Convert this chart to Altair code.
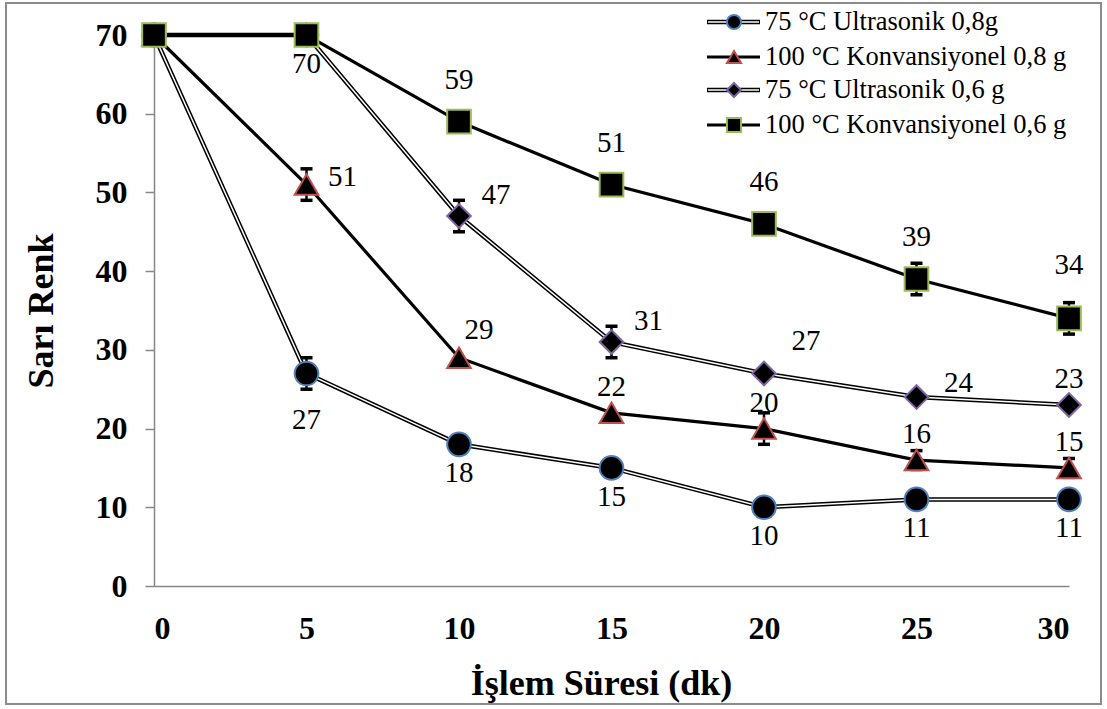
import altair as alt
import pandas as pd

# ---------------- data ----------------
time = [0, 5, 10, 15, 20, 25, 30]
series_names = [
    "75 °C Ultrasonik 0,8g",
    "100 °C Konvansiyonel 0,8 g",
    "75 °C Ultrasonik 0,6 g",
    "100 °C Konvansiyonel 0,6 g",
]
u08 = [70, 27, 18, 15, 10, 11, 11]
k08 = [70, 51, 29, 22, 20, 16, 15]
u06 = [70, 70, 47, 31, 27, 24, 23]
k06 = [70, 70, 59, 51, 46, 39, 34]

u08_err = [0, 2, 0, 0, 0, 0, 0]
k08_err = [0, 2, 0, 0, 2, 1.2, 1.2]
u06_err = [0, 0, 2, 2, 0, 0, 0]
k06_err = [0, 0, 0, 0, 0, 2, 2]

# label placement categories (which side of the marker the value label sits)
u08_lab = ["none", "below2", "below", "below", "below", "below", "below"]
k08_lab = ["none", "rightlow", "upright", "above", "above", "above", "above"]
u06_lab = ["none", "below", "right", "right", "righthi", "rightlo", "above"]
k06_lab = ["none", "none", "above2", "above2", "above2", "above2", "above3"]

values = [u08, k08, u06, k06]
errors = [u08_err, k08_err, u06_err, k06_err]
labels = [u08_lab, k08_lab, u06_lab, k06_lab]

# ---------------- styles ----------------
FONT = "Liberation Serif"
shapes = ["circle", "triangle-up", "diamond", "square"]
strokes = ["#4F81BD", "#C0504D", "#8064A2", "#9BBB59"]
double = [True, False, True, False]

placements = {
    "below": (0, 29),
    "below2": (0, 47),
    "above": (0, -26),
    "above2": (0, -42),
    "above3": (0, -53),
    "right": (37, -21),
    "righthi": (42, -32),
    "rightlo": (42, -14),
    "rightlow": (36, -8),
    "upright": (20, -28),
}

rows = []
for si, name in enumerate(series_names):
    for i, t in enumerate(time):
        v = values[si][i]
        e = errors[si][i]
        rows.append({
            "series": name, "order": si, "t": t, "v": v,
            "lo": v - e, "hi": v + e, "err": e,
            "lab": str(v), "pos": labels[si][i],
        })
df = pd.DataFrame(rows)

W, H = 915, 551
PAD = {"left": 154, "top": 35, "right": 38, "bottom": 123}

x_enc = alt.X("t:Q", scale=alt.Scale(domain=[0, 30], nice=False),
              axis=alt.Axis(values=time, title="İşlem Süresi (dk)", labelPadding=27,
                            ticks=False, titlePadding=22, titleX=447))
y_enc = alt.Y("v:Q", scale=alt.Scale(domain=[0, 70], nice=False),
              axis=alt.Axis(values=[0, 10, 20, 30, 40, 50, 60, 70], title="Sarı Renk",
                            labelPadding=18, titlePadding=35))

base = alt.Chart(df)

layers = []

# outer frame
frame = alt.Chart(pd.DataFrame({"a": [0]})).mark_rect(
    fillOpacity=0, stroke="#8c8c8c", strokeWidth=2
).encode(x=alt.value(-148), x2=alt.value(947), y=alt.value(-32), y2=alt.value(669))
layers.append(frame)

# lines
for si, name in enumerate(series_names):
    sub = base.transform_filter(alt.datum.series == name)
    if double[si]:
        layers.append(sub.mark_line(color="black", strokeWidth=4.5).encode(x=x_enc, y=y_enc))
        layers.append(sub.mark_line(color="white", strokeWidth=1.5).encode(x=x_enc, y=y_enc))
    else:
        layers.append(sub.mark_line(color="black", strokeWidth=3.2).encode(x=x_enc, y=y_enc))

# error bars
eb = base.transform_filter(alt.datum.err > 0)
layers.append(eb.mark_rule(color="black", strokeWidth=2.5).encode(
    x=x_enc, y=alt.Y("lo:Q"), y2="hi:Q"))
layers.append(eb.mark_tick(color="black", orient="horizontal", size=12, thickness=3.5, opacity=1).encode(
    x=x_enc, y=alt.Y("lo:Q")))
layers.append(eb.mark_tick(color="black", orient="horizontal", size=12, thickness=3.5, opacity=1).encode(
    x=x_enc, y=alt.Y("hi:Q")))

# markers
for si, name in enumerate(series_names):
    sub = base.transform_filter(alt.datum.series == name)
    layers.append(sub.mark_point(
        shape=shapes[si], filled=True, fill="black", fillOpacity=1,
        stroke=strokes[si], strokeWidth=2, size=560, opacity=1
    ).encode(x=x_enc, y=y_enc))

# value labels
for key, (dx, dy) in placements.items():
    sub = base.transform_filter(alt.datum.pos == key)
    layers.append(sub.mark_text(
        dx=dx, dy=dy, font=FONT, fontSize=29, color="black",
        align="center", baseline="middle"
    ).encode(x=x_enc, y=y_enc, text="lab:N"))

# manual legend
leg_df = pd.DataFrame({"series": series_names})
leg_rows_y = [-13, 22, 55, 90]
for si, name in enumerate(series_names):
    ldf = alt.Chart(leg_df).transform_filter(alt.datum.series == name)
    py = leg_rows_y[si]
    if double[si]:
        layers.append(ldf.mark_rule(color="black", strokeWidth=4.5).encode(
            x=alt.value(553), x2=alt.value(606), y=alt.value(py)))
        layers.append(ldf.mark_rule(color="white", strokeWidth=1.5).encode(
            x=alt.value(554), x2=alt.value(605), y=alt.value(py)))
    else:
        layers.append(ldf.mark_rule(color="black", strokeWidth=3.2).encode(
            x=alt.value(553), x2=alt.value(606), y=alt.value(py)))
    layers.append(ldf.mark_point(
        shape=shapes[si], filled=True, fill="black", fillOpacity=1,
        stroke=strokes[si], strokeWidth=2, size=200, opacity=1
    ).encode(x=alt.value(580), y=alt.value(py)))
    layers.append(ldf.mark_text(
        font=FONT, fontSize=26.5, color="black", align="left", baseline="middle"
    ).encode(x=alt.value(611), y=alt.value(py), text="series:N"))

chart = alt.layer(*layers).properties(
    width=W, height=H,
    autosize=alt.AutoSizeParams(type="none"),
    padding=PAD,
    background="white",
).configure(font=FONT).configure_view(strokeWidth=0).configure_axis(
    grid=False,
    domainColor="#868686", tickColor="#868686", domainWidth=1.5, tickWidth=1.5,
    tickSize=9,
    labelFont=FONT, labelFontWeight="bold", labelFontSize=32, labelColor="black",
    titleFont=FONT, titleFontWeight="bold", titleFontSize=36, titleColor="black",
)

chart.save("out.html", embed_options={"renderer": "svg", "actions": False})
